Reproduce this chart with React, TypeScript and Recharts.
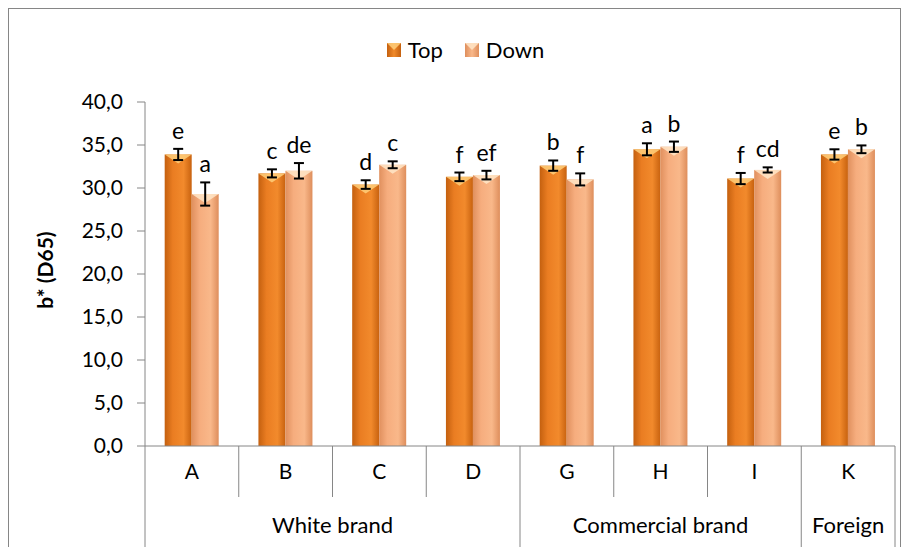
import React from "react";
import { Bar, BarChart, ErrorBar, LabelList, XAxis, YAxis } from "recharts";

const categories = ["A", "B", "C", "D", "G", "H", "I", "K"];
const groupNames = ["White brand", "White brand", "White brand", "White brand", "Commercial brand", "Commercial brand", "Commercial brand", "Foreign"];
const topValues = [33.9, 31.7, 30.4, 31.3, 32.6, 34.5, 31.1, 33.9];
const downValues = [29.3, 32.0, 32.7, 31.5, 31.0, 34.8, 32.1, 34.5];
const topErrors = [0.65, 0.47, 0.5, 0.5, 0.6, 0.7, 0.65, 0.6];
const downErrors = [1.35, 0.9, 0.4, 0.5, 0.7, 0.6, 0.3, 0.45];
const topLetters = ["e", "c", "d", "f", "b", "a", "f", "e"];
const downLetters = ["a", "de", "c", "ef", "f", "b", "cd", "b"];
const yTicks = [0, 5, 10, 15, 20, 25, 30, 35, 40];

const W = 903;
const H = 547;
const MARGIN = { top: 102, right: 8, bottom: 0, left: 85 };
const Y_AXIS_W = 60;
const CAT_AXIS_H = 51;
const GROUP_AXIS_H = 50;
const PLOT_W = W - MARGIN.left - Y_AXIS_W - MARGIN.right;
const PLOT_H = H - MARGIN.top - MARGIN.bottom - CAT_AXIS_H - GROUP_AXIS_H;
const STEP = PLOT_W / categories.length;
const PX_PER_UNIT = PLOT_H / 40;
const FONT = "Lato, 'Open Sans', sans-serif";
const AXIS = "#868686";

const data = categories.map((cat, i) => ({
  cat,
  group: groupNames[i],
  top: topValues[i],
  down: downValues[i],
  topErr: topErrors[i],
  downErr: downErrors[i],
  topLetter: topLetters[i],
  downLetter: downLetters[i],
}));

const groupStart = (i: number) => i === 0 || groupNames[i] !== groupNames[i - 1];
const groupSize = (i: number) => groupNames.filter((g) => g === groupNames[i]).length;

function CategoryTick(props: any) {
  const { x, y, payload, index } = props;
  const full = CAT_AXIS_H + GROUP_AXIS_H;
  return (
    <g>
      <line x1={x - STEP / 2} x2={x - STEP / 2} y1={y} y2={y + (groupStart(index) ? full : CAT_AXIS_H)} stroke={AXIS} />
      {index === categories.length - 1 && (
        <line x1={x + STEP / 2} x2={x + STEP / 2} y1={y} y2={y + full} stroke={AXIS} />
      )}
      <text x={x} y={y + 33} textAnchor="middle" fontSize={21} fontFamily={FONT} fill="#000">
        {payload.value}
      </text>
    </g>
  );
}

function GroupTick(props: any) {
  const { x, y, index } = props;
  if (!groupStart(index)) return null;
  return (
    <text x={x + ((groupSize(index) - 1) * STEP) / 2} y={y + 36} textAnchor="middle" fontSize={22} fontFamily={FONT} fill="#000">
      {groupNames[index]}
    </text>
  );
}

function makeShape(idPrefix: string, cap: string) {
  return (props: any) => {
    const { x, y, width, height } = props;
    if (height <= 0) return null;
    const capH = Math.min(9, height);
    return (
      <g>
        <rect x={x} y={y} width={width} height={height} fill={`url(#${idPrefix})`} />
        <polygon points={`${x},${y} ${x + width},${y} ${x + width / 2},${y + capH}`} fill={cap} opacity={0.85} />
      </g>
    );
  };
}

function letterLabel(errKey: "topErr" | "downErr", letterKey: "topLetter" | "downLetter") {
  return (props: any) => {
    const { x, y, width, index } = props;
    const row = data[index];
    const ey = y - row[errKey] * PX_PER_UNIT - 10;
    return (
      <text x={x + width / 2} y={ey} textAnchor="middle" fontSize={23} fontFamily={FONT} fill="#000">
        {row[letterKey]}
      </text>
    );
  };
}

function LegendBox() {
  const items = [
    { name: "Top", from: "#c4600f", mid: "#f08a2a", cap: "#ffcf7a" },
    { name: "Down", from: "#de8e5c", mid: "#f9b88a", cap: "#ffe6c8" },
  ];
  return (
    <div
      style={{
        position: "absolute",
        left: 14,
        top: 36,
        width: W,
        display: "flex",
        justifyContent: "center",
        gap: 22,
        fontFamily: FONT,
        fontSize: 22,
        lineHeight: "28px",
      }}
    >
      {items.map((it) => (
        <div key={it.name} style={{ display: "flex", alignItems: "center", gap: 7 }}>
          <svg width={14} height={14}>
            <defs>
              <linearGradient id={`lg-${it.name}`} x1="0" y1="0" x2="1" y2="0">
                <stop offset="0%" stopColor={it.from} />
                <stop offset="50%" stopColor={it.mid} />
                <stop offset="100%" stopColor={it.from} />
              </linearGradient>
            </defs>
            <rect width={14} height={14} fill={`url(#lg-${it.name})`} />
            <polygon points="0,0 14,0 7,7" fill={it.cap} opacity={0.85} />
          </svg>
          <span>{it.name}</span>
        </div>
      ))}
    </div>
  );
}

export default function App() {
  return (
    <div style={{ position: "absolute", left: 0, top: 0, width: W, height: H, overflow: "hidden", background: "#fff" }}>
      <div style={{ position: "absolute", left: 8, top: 8, width: 891, height: 600, border: `1px solid ${AXIS}` }} />
      <div
        style={{
          position: "absolute",
          left: 44,
          top: 270,
          transform: "translate(-50%, -50%) rotate(-90deg)",
          fontFamily: FONT,
          fontWeight: "bold",
          fontSize: 21,
          whiteSpace: "nowrap",
        }}
      >
        b* (D65)
      </div>
      <LegendBox />
      <BarChart
        width={W}
        height={H}
        data={data}
        margin={MARGIN}
        barCategoryGap="21%"
        barGap={0}
        style={{ position: "absolute", left: 0, top: 0 }}
      >
        <defs>
          <linearGradient id="topGrad" x1="0" y1="0" x2="1" y2="0">
            <stop offset="0%" stopColor="#c4600f" />
            <stop offset="30%" stopColor="#ea7d22" />
            <stop offset="70%" stopColor="#f28a2c" />
            <stop offset="100%" stopColor="#c8620f" />
          </linearGradient>
          <linearGradient id="downGrad" x1="0" y1="0" x2="1" y2="0">
            <stop offset="0%" stopColor="#e0905e" />
            <stop offset="30%" stopColor="#f6ad7e" />
            <stop offset="70%" stopColor="#f9b88a" />
            <stop offset="100%" stopColor="#de8e5c" />
          </linearGradient>
        </defs>
        <XAxis
          xAxisId="cat"
          dataKey="cat"
          height={CAT_AXIS_H}
          stroke={AXIS}
          tickLine={false}
          tickSize={0}
          tickMargin={0}
          interval={0}
          tick={<CategoryTick />}
        />
        <XAxis
          xAxisId="group"
          dataKey="cat"
          height={GROUP_AXIS_H}
          axisLine={false}
          tickLine={false}
          tickSize={0}
          tickMargin={0}
          interval={0}
          tick={<GroupTick />}
        />
        <YAxis
          width={Y_AXIS_W}
          domain={[0, 40]}
          ticks={yTicks}
          interval={0}
          stroke={AXIS}
          tickSize={8}
          tickMargin={14}
          tick={{ fontSize: 21, fontFamily: FONT, fill: "#000" }}
          tickFormatter={(v: number) => v.toFixed(1).replace(".", ",")}
        />
        <Bar xAxisId="cat" dataKey="top" name="Top" isAnimationActive={false} shape={makeShape("topGrad", "#ffcf7a")}>
          <ErrorBar dataKey="topErr" width={5} strokeWidth={2} stroke="#000" direction="y" />
          <LabelList dataKey="top" content={letterLabel("topErr", "topLetter")} />
        </Bar>
        <Bar xAxisId="cat" dataKey="down" name="Down" isAnimationActive={false} shape={makeShape("downGrad", "#ffe6c8")}>
          <ErrorBar dataKey="downErr" width={5} strokeWidth={2} stroke="#000" direction="y" />
          <LabelList dataKey="down" content={letterLabel("downErr", "downLetter")} />
        </Bar>
      </BarChart>
    </div>
  );
}
